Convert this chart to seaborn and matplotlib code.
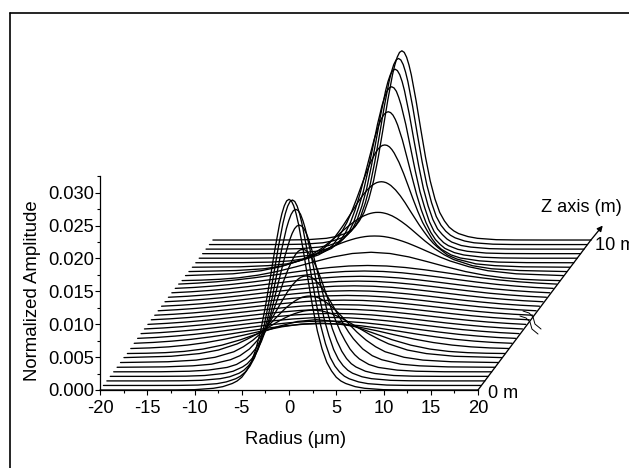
import matplotlib
matplotlib.use("Agg")
import matplotlib.pyplot as plt
from matplotlib.lines import Line2D
from matplotlib.ticker import MultipleLocator, FormatStrFormatter
import numpy as np
import pandas as pd
import seaborn as sns

# half-profile radii (micrometres); each beam profile is symmetric about r = 0
radius_fine = [0, 0.25, 0.5, 0.75, 1, 1.5, 2, 2.5, 3, 3.5, 4, 4.5, 5, 5.5, 6, 7, 8, 10, 12, 15, 20]
radius_coarse = [0, 2, 4, 6, 8, 10, 12, 14, 16, 18, 20]

# amplitude in units of 1e-5, one list per Z slice (front 0 m to back 10 m)
z00 = [2899, 2875, 2800, 2682, 2525, 2131, 1690, 1264, 899, 623, 420, 290, 194, 136, 99, 51, 26, 5, 1, 0, 0]
z01 = [2820, 2797, 2727, 2614, 2468, 2095, 1672, 1261, 908, 634, 426, 293, 203, 141, 102, 54, 27, 6, 1, 0, 0]
z02 = [2608, 2590, 2532, 2436, 2316, 2000, 1633, 1270, 941, 686, 477, 331, 232, 162, 117, 63, 34, 9, 2, 0, 0]
z03 = [2300, 2286, 2245, 2174, 2079, 1838, 1548, 1258, 966, 724, 534, 382, 271, 193, 143, 78, 44, 13, 3, 0, 0]
z04 = [1862, 1854, 1828, 1786, 1726, 1575, 1387, 1179, 970, 776, 605, 469, 348, 261, 196, 112, 67, 26, 9, 1, 0]
z05 = [1388, 1384, 1371, 1351, 1321, 1242, 1141, 1020, 896, 770, 648, 534, 434, 354, 278, 176, 115, 47, 22, 6, 0]
z06 = [1014, 1012, 1006, 997, 983, 944, 893, 833, 764, 691, 615, 541, 468, 404, 342, 243, 167, 83, 40, 15, 3]
z07 = [730, 729, 726, 722, 716, 697, 674, 644, 610, 572, 531, 488, 446, 404, 361, 286, 218, 124, 70, 29, 9]
z08 = [517, 489, 414, 314, 212, 129, 70, 34, 15, 6, 2]
z09 = [395, 380, 339, 280, 214, 152, 100, 61, 34, 18, 9]
z10 = [319, 310, 285, 247, 203, 157, 115, 79, 52, 32, 19]
z11 = [289, 282, 262, 231, 195, 156, 119, 86, 60, 39, 25]
z12 = [274, 268, 250, 223, 190, 155, 121, 89, 64, 43, 28]
z13 = [266, 260, 244, 218, 187, 153, 120, 91, 65, 45, 30]
z14 = [263, 257, 241, 216, 186, 153, 121, 91, 66, 46, 30]
z15 = [261, 256, 240, 215, 185, 153, 121, 91, 66, 46, 31]
z16 = [261, 256, 240, 215, 185, 153, 121, 91, 66, 46, 31]
z17 = [263, 257, 241, 216, 186, 153, 121, 91, 66, 46, 30]
z18 = [266, 260, 244, 218, 187, 153, 120, 91, 65, 45, 30]
z19 = [271, 265, 248, 221, 189, 155, 121, 90, 65, 44, 29]
z20 = [274, 268, 250, 223, 190, 155, 121, 89, 64, 43, 28]
z21 = [278, 272, 253, 225, 191, 155, 120, 88, 62, 42, 27]
z22 = [289, 282, 262, 231, 195, 156, 119, 86, 60, 39, 25]
z23 = [304, 296, 273, 239, 199, 157, 117, 83, 56, 36, 21]
z24 = [436, 417, 365, 291, 213, 142, 87, 48, 25, 12, 5]
z25 = [614, 613, 612, 609, 605, 593, 577, 556, 533, 507, 478, 448, 417, 385, 354, 290, 234, 146, 86, 39, 12]
z26 = [904, 903, 898, 890, 880, 851, 811, 763, 710, 651, 589, 527, 466, 410, 353, 260, 187, 93, 47, 20, 4]
z27 = [1301, 1297, 1287, 1268, 1244, 1176, 1088, 984, 869, 757, 645, 543, 446, 364, 299, 187, 125, 52, 25, 7, 1]
z28 = [1791, 1784, 1761, 1721, 1667, 1528, 1354, 1161, 964, 779, 614, 484, 364, 269, 204, 120, 72, 29, 10, 2, 0]
z29 = [2227, 2214, 2176, 2111, 2024, 1799, 1525, 1245, 971, 735, 541, 394, 283, 209, 149, 85, 49, 15, 4, 0, 0]
z30 = [2538, 2520, 2469, 2376, 2261, 1964, 1612, 1261, 942, 698, 485, 335, 241, 168, 122, 66, 36, 9, 2, 0, 0]
z31 = [2736, 2714, 2651, 2547, 2408, 2057, 1655, 1267, 922, 657, 451, 306, 222, 153, 107, 55, 31, 7, 1, 0, 0]
z32 = [2830, 2807, 2737, 2623, 2476, 2100, 1675, 1262, 908, 637, 427, 294, 204, 142, 102, 54, 27, 6, 1, 0, 0]
z33 = [2877, 2853, 2779, 2661, 2509, 2120, 1683, 1260, 898, 624, 420, 291, 196, 138, 98, 52, 26, 5, 1, 0, 0]

slices = [z00, z01, z02, z03, z04, z05, z06, z07, z08, z09, z10, z11,
          z12, z13, z14, z15, z16, z17, z18, z19, z20, z21, z22, z23,
          z24, z25, z26, z27, z28, z29, z30, z31, z32, z33]

x_ticks = [-20, -15, -10, -5, 0, 5, 10, 15, 20]
y_ticks = [0.000, 0.005, 0.010, 0.015, 0.020, 0.025, 0.030]

# waterfall shift between neighbouring slices
shift_x = 0.362
shift_y = 0.000691

# "break" marks on the Z axis
break_x = [24.44, 25.08, 25.50, 25.71, 26.35]
break_y = [0.01125, 0.01095, 0.01034, 0.00927, 0.00851]

sns.set_theme(style="ticks")
plt.rcParams["font.family"] = ["Liberation Sans", "DejaVu Sans"]
plt.rcParams["axes.unicode_minus"] = False

frames = []
for i, row in enumerate(slices):
    half_r = np.array(radius_fine if len(row) == len(radius_fine) else radius_coarse, dtype=float)
    half_a = np.array(row, dtype=float) * 1e-5
    full_r = np.concatenate([-half_r[:0:-1], half_r])
    full_a = np.concatenate([half_a[:0:-1], half_a])
    frames.append(pd.DataFrame({"r": full_r + i * shift_x,
                                "a": full_a + i * shift_y,
                                "z": i}))
df = pd.concat(frames, ignore_index=True)

W, H = 629, 468
fig = plt.figure(figsize=(W / 100, H / 100), dpi=100, facecolor="white")
ax = fig.add_axes([100 / W, 1 - 390 / H, 378 / W, 214 / H])

sns.lineplot(data=df, x="r", y="a", units="z", estimator=None, color="black",
             linewidth=0.95, sort=False, legend=False, ax=ax, clip_on=False)

ax.set_xlim(-20, 20)
ax.set_ylim(0, 214 / 6577)
ax.set_xticks(x_ticks)
ax.set_yticks(y_ticks)
ax.xaxis.set_minor_locator(MultipleLocator(2.5))
ax.yaxis.set_minor_locator(MultipleLocator(0.0025))
ax.yaxis.set_major_formatter(FormatStrFormatter("%.3f"))
ax.tick_params(axis="both", which="major", length=3.6, width=0.8, labelsize=13.2,
               color="black", labelcolor="black")
ax.tick_params(axis="x", which="major", pad=3.5)
ax.tick_params(axis="y", which="major", pad=0.5)
ax.tick_params(axis="both", which="minor", length=2, width=0.8, color="black")
for name in ("top", "right"):
    ax.spines[name].set_visible(False)
for name in ("left", "bottom"):
    ax.spines[name].set_linewidth(0.9)
    ax.spines[name].set_color("black")
ax.set_xlabel("")
ax.set_ylabel("")

# Z axis with arrow
last = len(slices) - 1
ax.plot([20, 20 + last * shift_x], [0, last * shift_y], color="black", lw=0.95, clip_on=False)
ax.annotate("", xy=(20 + 13.2, 0.0250), xytext=(20 + last * shift_x, last * shift_y),
            arrowprops=dict(arrowstyle="-|>", color="black", lw=0.95, mutation_scale=8,
                            shrinkA=0, shrinkB=0), annotation_clip=False)
ax.plot(break_x, break_y, color="black", lw=0.7, clip_on=False)
ax.plot(np.array(break_x) + 0.32, np.array(break_y) + 0.00076, color="black", lw=0.7, clip_on=False)

# texts
fig.text(296 / W, 1 - 440 / H, "Radius (\u03bcm)", ha="center", va="center", fontsize=13.3, color="black")
fig.text(33 / W, 1 - 291 / H, "Normalized Amplitude", ha="center", va="center",
         rotation=90, fontsize=13.4, color="black")
fig.text(581 / W, 1 - 207 / H, "Z axis (m)", ha="center", va="center", fontsize=13.1, color="black")
fig.text(595 / W, 1 - 246 / H, "10 m", ha="left", va="center", fontsize=13.1, color="black")
fig.text(488 / W, 1 - 393 / H, "0 m", ha="left", va="center", fontsize=13.1, color="black")

# page frame (only top and left edges are inside the crop)
fig.add_artist(Line2D([9.5 / W, 1], [1 - 13 / H, 1 - 13 / H], color="black", lw=1.2))
fig.add_artist(Line2D([9.5 / W, 9.5 / W], [1 - 13 / H, 0], color="black", lw=1.2))

fig.savefig("out.png", dpi=100)
